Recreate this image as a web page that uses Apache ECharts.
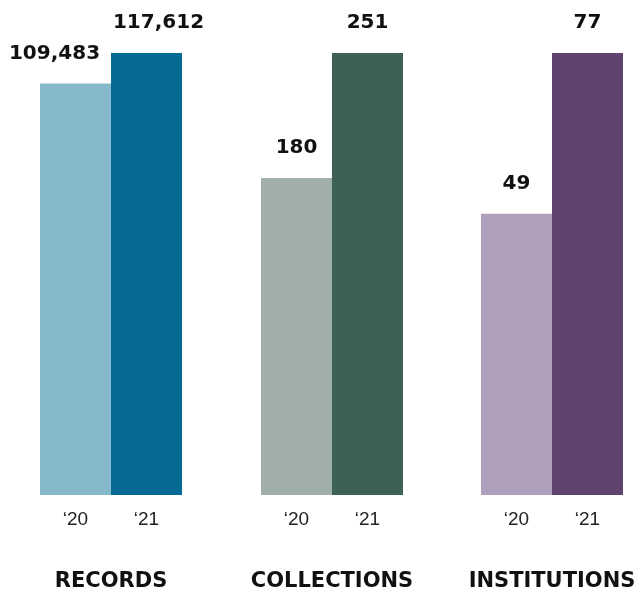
<!DOCTYPE html>
<html>
<head>
<meta charset="utf-8">
<script src="https://cdn.jsdelivr.net/npm/echarts@6/dist/echarts.min.js"></script>
<style>
html,body{margin:0;padding:0;background:#fff;}
#chart{width:637px;height:590px;}
</style>
</head>
<body>
<div id="chart"></div>
<script>
const groups = ['RECORDS', 'COLLECTIONS', 'INSTITUTIONS'];
const years = ['\u201820', '\u201821'];
const records = [109483, 117612];
const collections = [180, 251];
const institutions = [49, 77];
const colors = [
  ['#85b8ca', '#066b94'],
  ['#a1afab', '#3d6155'],
  ['#b0a0bb', '#5f4472']
];

const values = [records, collections, institutions];
const lefts = [40, 261, 481];
const labelOffsets = [[[-21, 0], [12, 0]], [[0, 0], [0, 0]], [[0, 0], [0, 0]]];

const chart = echarts.init(document.getElementById('chart'));
const grid = [], xAxis = [], yAxis = [], series = [];
groups.forEach((g, i) => {
  grid.push({left: lefts[i], width: 142, top: 53, height: 442, outerBoundsMode: 'none', containLabel: false});
  xAxis.push({
    type: 'category', gridIndex: i, data: years,
    axisLine: {show: false}, axisTick: {show: false},
    axisLabel: {margin: 15, fontSize: 19, color: '#222', fontFamily: 'Liberation Sans'},
    name: g, nameLocation: 'middle', nameGap: 76,
    nameTextStyle: {fontSize: 21, fontWeight: 'bold', color: '#111', fontFamily: 'DejaVu Sans'}
  });
  yAxis.push({type: 'value', gridIndex: i, min: 0, max: values[i][1], show: false});
  series.push({
    type: 'bar', xAxisIndex: i, yAxisIndex: i, barWidth: '100%',
    data: values[i].map((v, j) => ({
      value: v,
      itemStyle: {color: colors[i][j]},
      label: {offset: labelOffsets[i][j]}
    })),
    label: {
      show: true, position: 'top', distance: 20,
      fontSize: 20, fontWeight: 'bold', color: '#111', fontFamily: 'DejaVu Sans',
      formatter: p => p.value.toLocaleString('en-US')
    }
  });
});
chart.setOption({animation: false, grid, xAxis, yAxis, series});
</script>
</body>
</html>
